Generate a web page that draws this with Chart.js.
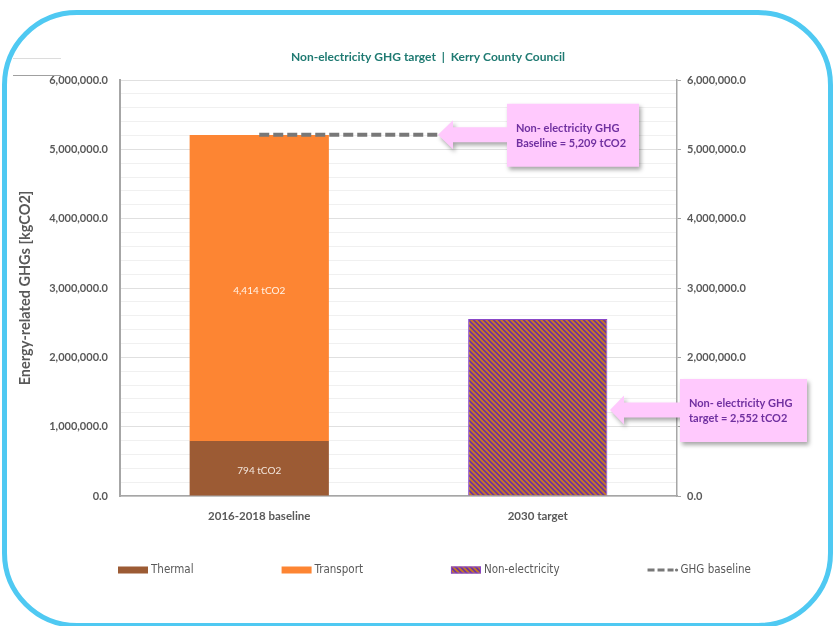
<!DOCTYPE html>
<html>
<head>
<meta charset="utf-8">
<title>Non-electricity GHG target</title>
<script src="https://cdn.jsdelivr.net/npm/chart.js@4.4.8/dist/chart.umd.min.js"></script>
<style>
  html, body { margin: 0; padding: 0; background: #fff; }
  #wrap { position: relative; width: 836px; height: 626px; overflow: hidden; }
  #ghgChart { position: absolute; left: 0; top: 0; }
  #frame {
    position: absolute; left: 2px; top: 10px; width: 831px; height: 618px;
    box-sizing: border-box; border: 5px solid #4fc9f2; border-radius: 75px;
    pointer-events: none;
  }
  .rule { position: absolute; left: 13px; width: 48px; height: 1px; }
</style>
</head>
<body>
<div id="wrap">
  <canvas id="ghgChart" width="836" height="626"></canvas>
  <div id="frame"></div>
  <div class="rule" style="top:58px;background:#dcdcdc"></div>
  <div class="rule" style="top:75px;background:#a0a0a0"></div>
</div>
<script>
  // kgCO2 per sector, one stacked column per period
  const categories = ['2016-2018 baseline', '2030 target'];
  const thermal = [794000, null];
  const transport = [4414000, null];
  const nonElectricity = [null, 2552000];
  const ghgBaseline = [5209000, 5209000];

  const axisMin = 0;
  const axisMax = 6000000;
  const majorStep = 1000000;
  const minorStep = 200000;

  const FONT = 'Lato, "Open Sans", sans-serif';
  const GREY = '#595959';
  const PURPLE = '#7030a0';

  Chart.defaults.font.family = FONT;
  Chart.defaults.color = GREY;

  function fmtAxis(v) {
    return v.toLocaleString('en-US', { minimumFractionDigits: 1, maximumFractionDigits: 1 });
  }
  function tonnes(v) {
    return Math.round(v / 1000).toLocaleString('en-US') + ' tCO2';
  }

  // diagonal purple / gold hatching for the target column
  function hatchPattern() {
    const size = 5;
    const c = document.createElement('canvas');
    c.width = c.height = size;
    const g = c.getContext('2d');
    const img = g.createImageData(size, size);
    const purple = [112, 48, 160], gold = [200, 126, 30];
    for (let y = 0; y < size; y++) {
      for (let x = 0; x < size; x++) {
        let cov = 0;
        for (let sy = 0; sy < 4; sy++) {
          for (let sx = 0; sx < 4; sx++) {
            const d = (x + (sx + 0.5) / 4) - (y + (sy + 0.5) / 4);
            const m = ((d % size) + size) % size;
            if (m < size / 2) cov++;
          }
        }
        cov /= 16;
        const i = (y * size + x) * 4;
        for (let k = 0; k < 3; k++) img.data[i + k] = Math.round(gold[k] * cov + purple[k] * (1 - cov));
        img.data[i + 3] = 255;
      }
    }
    g.putImageData(img, 0, 0);
    return g.createPattern(c, 'repeat');
  }

  const headline = {
    id: 'headline',
    afterDraw(chart) {
      const ctx = chart.ctx;
      ctx.save();
      ctx.font = 'bold 12px ' + FONT;
      ctx.fillStyle = '#1f7a72';
      ctx.textAlign = 'center';
      ctx.textBaseline = 'middle';
      ctx.fillText('Non-electricity GHG target  |  Kerry County Council', 428, 57);
      ctx.restore();
    }
  };

  // white value labels inside the baseline segments
  const segmentLabels = {
    id: 'segmentLabels',
    afterDatasetsDraw(chart) {
      const ctx = chart.ctx;
      ctx.save();
      ctx.font = '10px ' + FONT;
      ctx.textAlign = 'center';
      ctx.textBaseline = 'middle';
      [0, 1].forEach(di => {
        const ds = chart.data.datasets[di];
        chart.getDatasetMeta(di).data.forEach((bar, i) => {
          if (ds.data[i] == null) return;
          ctx.fillStyle = di === 0 ? '#f3e6dc' : '#fff3e8';
          ctx.fillText(tonnes(ds.data[i]), bar.x, (bar.y + bar.base) / 2 + 3);
        });
      });
      ctx.restore();
    }
  };

  function drawCallout(ctx, o) {
    const { tipX, tipY, headX, boxL, boxR, boxT, boxB, lines } = o;
    const hh = 14.5, sh = 7.5;
    ctx.save();
    ctx.beginPath();
    ctx.moveTo(boxL, boxT);
    ctx.lineTo(boxR, boxT);
    ctx.lineTo(boxR, boxB);
    ctx.lineTo(boxL, boxB);
    ctx.lineTo(boxL, tipY + sh);
    ctx.lineTo(headX, tipY + sh);
    ctx.lineTo(headX, tipY + hh);
    ctx.lineTo(tipX, tipY);
    ctx.lineTo(headX, tipY - hh);
    ctx.lineTo(headX, tipY - sh);
    ctx.lineTo(boxL, tipY - sh);
    ctx.closePath();
    ctx.shadowColor = 'rgba(0,0,0,0.35)';
    ctx.shadowBlur = 4;
    ctx.shadowOffsetX = 2;
    ctx.shadowOffsetY = 3;
    ctx.fillStyle = '#ffc9fd';
    ctx.fill();
    ctx.shadowColor = 'transparent';
    ctx.font = 'bold 11px ' + FONT;
    ctx.fillStyle = PURPLE;
    ctx.textBaseline = 'middle';
    lines.forEach((t, i) => ctx.fillText(t, boxL + 9, o.textY + i * 15));
    ctx.restore();
  }

  const callouts = {
    id: 'callouts',
    afterDraw(chart) {
      const ctx = chart.ctx;
      const y = chart.scales.y;
      const by = y.getPixelForValue(ghgBaseline[0]);
      drawCallout(ctx, {
        tipX: 438, tipY: by, headX: 453,
        boxL: 507, boxR: 639, boxT: by - 31, boxB: by + 32,
        textY: by - 6,
        lines: ['Non- electricity GHG', 'Baseline = ' + tonnes(ghgBaseline[0])]
      });
      drawCallout(ctx, {
        tipX: 610, tipY: 410, headX: 624,
        boxL: 680, boxR: 807, boxT: 379, boxB: 442,
        textY: 403,
        lines: ['Non- electricity GHG', 'target = ' + tonnes(nonElectricity[1])]
      });
    }
  };

  const legendRow = {
    id: 'legendRow',
    afterDraw(chart) {
      const ctx = chart.ctx;
      const y = 570, sw = 30, sh = 7, gap = 88;
      let x = 118;
      ctx.save();
      ctx.font = '11.5px "Liberation Sans Narrow", "DejaVu Sans Condensed", sans-serif';
      ctx.textBaseline = 'middle';
      chart.data.datasets.forEach(ds => {
        if (ds.type === 'line') {
          ctx.strokeStyle = ds.borderColor;
          ctx.lineWidth = 3;
          ctx.setLineDash([7, 3]);
          ctx.beginPath();
          ctx.moveTo(x, y);
          ctx.lineTo(x + sw - 4, y);
          ctx.stroke();
          ctx.setLineDash([]);
          ctx.fillStyle = ds.borderColor;
          ctx.beginPath();
          ctx.arc(x + sw - 1, y, 1.6, 0, Math.PI * 2);
          ctx.fill();
        } else {
          ctx.fillStyle = ds.backgroundColor;
          ctx.fillRect(x, y - sh / 2, sw, sh);
          if (ds.borderWidth) {
            ctx.strokeStyle = ds.borderColor;
            ctx.lineWidth = 1;
            ctx.strokeRect(x + 0.5, y - sh / 2 + 0.5, sw - 1, sh - 1);
          }
        }
        ctx.fillStyle = GREY;
        ctx.fillText(ds.label, x + sw + 3, y);
        x += sw + 3 + ctx.measureText(ds.label).width + gap;
      });
      ctx.restore();
    }
  };

  const hatch = hatchPattern();

  new Chart(document.getElementById('ghgChart'), {
    type: 'bar',
    data: {
      labels: categories,
      datasets: [
        { label: 'Thermal', data: thermal, backgroundColor: '#9c5b34', stack: 'ghg', order: 1 },
        { label: 'Transport', data: transport, backgroundColor: '#fd8533', stack: 'ghg', order: 1 },
        { label: 'Non-electricity', data: nonElectricity, backgroundColor: hatch,
          borderColor: '#8a48c8', borderWidth: 1, stack: 'ghg', order: 1 },
        { type: 'line', label: 'GHG baseline', data: ghgBaseline, borderColor: '#787878',
          borderWidth: 4, borderDash: [10, 4], pointRadius: 0, fill: false, tension: 0,
          stack: 'baseline', order: 0 }
      ]
    },
    options: {
      responsive: false,
      animation: false,
      barPercentage: 0.5,
      categoryPercentage: 1.0,
      layout: { padding: { left: 12, right: 40, top: 80, bottom: 90 } },
      plugins: {
        legend: { display: false },
        title: { display: false },
        tooltip: { enabled: false }
      },
      scales: {
        x: {
          stacked: true,
          grid: { display: false },
          border: { color: '#a6a6a6', width: 1.5 },
          ticks: { padding: 5, color: GREY, font: { size: 11.5, weight: 'bold' } },
          afterFit: s => { s.height = 40; }
        },
        y: {
          stacked: true,
          position: 'left',
          min: axisMin,
          max: axisMax,
          ticks: {
            stepSize: minorStep,
            autoSkip: false,
            padding: 12,
            color: GREY,
            font: { size: 11, weight: 'bold' },
            callback: v => (v % majorStep === 0 ? fmtAxis(v) : '')
          },
          grid: {
            drawTicks: false,
            color: c => (c.tick && c.tick.value % majorStep === 0 ? '#e0e0e0' : '#f0f0f0')
          },
          border: { color: '#a6a6a6', width: 2 },
          title: {
            display: true,
            text: 'Energy-related GHGs [kgCO2]',
            color: GREY,
            font: { size: 14.5, weight: 'bold' },
            padding: { top: 5, bottom: 0 }
          },
          afterFit: s => { s.width = 108; }
        },
        y2: {
          position: 'right',
          min: axisMin,
          max: axisMax,
          ticks: {
            stepSize: majorStep,
            padding: 6,
            color: GREY,
            font: { size: 11, weight: 'bold' },
            callback: v => fmtAxis(v)
          },
          grid: { drawOnChartArea: false, tickLength: 4, color: '#a6a6a6' },
          border: { color: '#a6a6a6', width: 1.5 },
          afterFit: s => { s.width = 836 - 40 - 677; }
        }
      }
    },
    plugins: [segmentLabels, headline, callouts, legendRow]
  });
</script>
</body>
</html>
